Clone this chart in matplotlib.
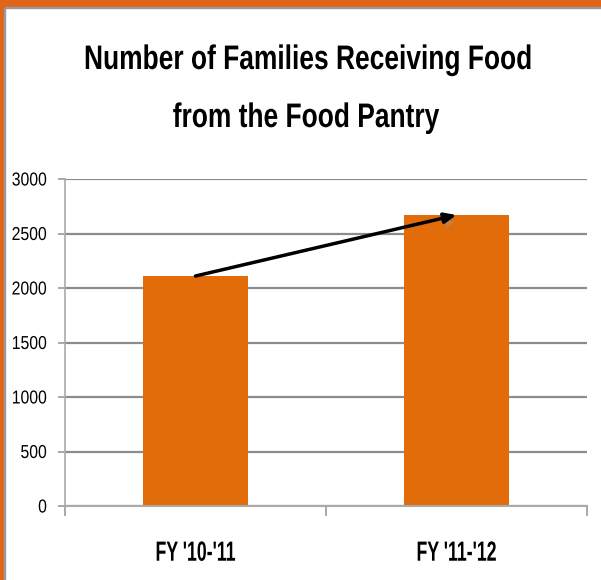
import matplotlib
matplotlib.use("Agg")
import matplotlib.pyplot as plt
from matplotlib.patches import Rectangle
from matplotlib.transforms import Affine2D
import matplotlib.patheffects as pe

categories = ["FY '10-'11", "FY '11-'12"]
families = [2110, 2670]
yticks = [0, 500, 1000, 1500, 2000, 2500, 3000]
title_lines = ["Number of Families Receiving Food", "from the Food Pantry"]

FONT = "Liberation Sans"

bar_color = "#E36C0A"
border_color = "#E0651A"
grid_color = "#8C8C8C"
W, H = 601, 580


class Squeeze(pe.AbstractPathEffect):
    """Horizontally condense a text about its anchor (mimics a narrow font)."""
    def __init__(self, artist, sx):
        super().__init__()
        self.artist = artist
        self.sx = sx

    def draw_path(self, renderer, gc, tpath, affine, rgbFace=None):
        a = self.artist
        cx = a.get_transform().transform(a.get_unitless_position())[0]
        t = affine + Affine2D().translate(-cx, 0).scale(self.sx, 1).translate(cx, 0)
        renderer.draw_path(gc, tpath, t, rgbFace)


fig = plt.figure(figsize=(W / 100, H / 100), dpi=100)
fig.patch.set_facecolor("white")

# border strips
fig.add_artist(Rectangle((0, 1 - 7/H), 1, 7/H, transform=fig.transFigure, color=border_color, zorder=0))
fig.add_artist(Rectangle((0, 1 - 8.2/H), 1, 1.2/H, transform=fig.transFigure, color="#9a9a9a", zorder=0))
fig.add_artist(Rectangle((0, 0), 4/W, 1, transform=fig.transFigure, color=border_color, zorder=1))
fig.add_artist(Rectangle((4/W, 0), 1.2/W, 1 - 8/H, transform=fig.transFigure, color="#9a9a9a", zorder=1))

ax = fig.add_axes([65/W, 1 - 506/H, (587-65)/W, (506-179)/H])
x = list(range(len(categories)))
ax.bar(x, families, width=0.4, color=bar_color, zorder=2)
ax.set_xlim(-0.5, len(categories) - 0.5)
ax.set_ylim(0, 3000)
ax.set_yticks(yticks)
ax.set_yticklabels([str(v) for v in yticks], fontsize=13.5, family=FONT)
ax.yaxis.grid(True, color=grid_color, linewidth=1.6, zorder=1)
ax.set_axisbelow(True)
ax.set_xticks([-0.5, 0.5, 1.5])
ax.set_xticklabels([])
ax.set_xticks(x, minor=True)
ax.set_xticklabels(categories, minor=True, fontsize=20, fontweight="bold", family=FONT)
ax.tick_params(axis="x", which="major", length=7, color="#999999", width=1.2, direction="out")
ax.tick_params(axis="x", which="minor", length=0, pad=25)
ax.tick_params(axis="y", length=5, color="#999999", width=1.2, pad=8)
ax.spines["top"].set_visible(False)
ax.spines["right"].set_visible(False)
ax.spines["left"].set_color("#AAAAAA")
ax.spines["left"].set_linewidth(1.2)
ax.spines["bottom"].set_color("#AAAAAA")
ax.spines["bottom"].set_linewidth(1.5)

# trend arrow
ax.annotate("", xy=(x[1], families[1]), xytext=(x[0], families[0]),
            arrowprops=dict(arrowstyle="-|>,head_length=0.7,head_width=0.3", color="black", lw=2.5,
                            shrinkA=0, shrinkB=0,
                            path_effects=[pe.SimplePatchShadow(offset=(2, -4), shadow_rgbFace="#999999", alpha=0.45), pe.Normal()]),
            zorder=5)

# title (two centred lines)
t1 = fig.text(308/W, 1 - 69/H, title_lines[0], ha="center", va="baseline",
              fontsize=24.5, fontweight="bold", family=FONT)
t2 = fig.text(306/W, 1 - 127/H, title_lines[1], ha="center", va="baseline",
              fontsize=24.5, fontweight="bold", family=FONT)

fig.canvas.draw()
r = fig.canvas.get_renderer()
sx_title = 448 / t1.get_window_extent(r).width
for t in (t1, t2):
    t.set_path_effects([Squeeze(t, sx_title)])

labels = ax.get_xticklabels(minor=True)
sx_lab = 80 / labels[0].get_window_extent(r).width
for tick in ax.xaxis.get_minor_ticks():
    tick.label1.set_path_effects([Squeeze(tick.label1, sx_lab)])
for tick in ax.yaxis.get_major_ticks():
    tick.label1.set_path_effects([Squeeze(tick.label1, 0.84)])

fig.savefig("out.png", dpi=100, facecolor="white")
